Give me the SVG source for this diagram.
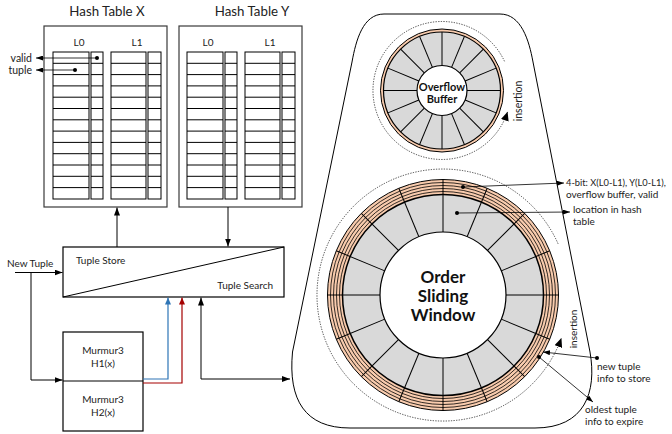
<svg xmlns="http://www.w3.org/2000/svg" xmlns:xlink="http://www.w3.org/1999/xlink" width="672" height="434" viewBox="0 0 672 434">
<style>
text{font-family:Lato,"Liberation Sans",sans-serif;fill:#222;font-size:10px}
.ttl{font-size:13.3px}
.s105{font-size:10.5px}
.s93{font-size:9.3px}
.b{font-weight:bold;fill:#111}
.b11{font-size:11px}
.b18{font-size:17px}
.box{fill:#fff;stroke:#3a3a3a;stroke-width:1.2}
.col{fill:#fff;stroke:#000;stroke-width:1}
.ln{fill:none;stroke:#000;stroke-width:1}
.thin{fill:none;stroke:#000;stroke-width:0.8}
.dash{fill:none;stroke:#000;stroke-width:0.7;stroke-dasharray:1.3 1.3}
.spoke{stroke:#000;stroke-width:1}
</style>
<defs>
<marker id="ah" viewBox="0 0 8 6" refX="8" refY="3" markerWidth="8" markerHeight="6" markerUnits="userSpaceOnUse" orient="auto-start-reverse"><path d="M0 0L8 3L0 6z" fill="#000"/></marker>
<marker id="ahs" viewBox="0 0 7 5" refX="7" refY="2.5" markerWidth="7" markerHeight="5" markerUnits="userSpaceOnUse" orient="auto-start-reverse"><path d="M0 0L7 2.5L0 5z" fill="#000"/></marker>
<marker id="ahb" viewBox="0 0 7 6" refX="7" refY="3" markerWidth="7" markerHeight="6" markerUnits="userSpaceOnUse" orient="auto"><path d="M0 0L7 3L0 6z" fill="#2e75b6"/></marker>
<marker id="ahr" viewBox="0 0 7 6" refX="7" refY="3" markerWidth="7" markerHeight="6" markerUnits="userSpaceOnUse" orient="auto"><path d="M0 0L7 3L0 6z" fill="#a50000"/></marker>
<marker id="ahi" viewBox="0 0 9 8" refX="9" refY="4" markerWidth="9" markerHeight="8" markerUnits="userSpaceOnUse" orient="auto"><path d="M0 0L9 4L0 8z" fill="#000"/></marker>
<g id="grid">
<rect class="col" x="9" y="52" width="36" height="147"/>
<rect class="col" x="47" y="52" width="12" height="147"/>
<rect class="col" x="67" y="52" width="35" height="147"/>
<rect class="col" x="104" y="52" width="13" height="147"/>
<path class="ln" d="M9 63.3h36M47 63.3h12M67 63.3h35M104 63.3h13M9 74.6h36M47 74.6h12M67 74.6h35M104 74.6h13M9 85.9h36M47 85.9h12M67 85.9h35M104 85.9h13M9 97.2h36M47 97.2h12M67 97.2h35M104 97.2h13M9 108.5h36M47 108.5h12M67 108.5h35M104 108.5h13M9 119.8h36M47 119.8h12M67 119.8h35M104 119.8h13M9 131.1h36M47 131.1h12M67 131.1h35M104 131.1h13M9 142.4h36M47 142.4h12M67 142.4h35M104 142.4h13M9 153.7h36M47 153.7h12M67 153.7h35M104 153.7h13M9 165h36M47 165h12M67 165h35M104 165h13M9 176.3h36M47 176.3h12M67 176.3h35M104 176.3h13M9 187.6h36M47 187.6h12M67 187.6h35M104 187.6h13"/>
</g>
<line id="spS" class="spoke" x1="0" y1="-25" x2="0" y2="-58.5"/>
<line id="spB" class="spoke" x1="0" y1="-63" x2="0" y2="-115.5"/>
</defs>

<g id="hash-table-x">
<text class="ttl" x="107" y="16" text-anchor="middle">Hash Table X</text>
<rect class="box" x="44" y="26" width="123" height="181"/>
<text x="79" y="46" text-anchor="middle">L0</text>
<text x="137" y="46" text-anchor="middle">L1</text>
<use xlink:href="#grid" href="#grid" transform="translate(44,0)"/>
</g>

<g id="hash-table-y">
<text class="ttl" x="252" y="16" text-anchor="middle">Hash Table Y</text>
<rect class="box" x="179" y="26" width="123" height="181"/>
<text x="208" y="46" text-anchor="middle">L0</text>
<text x="270" y="46" text-anchor="middle">L1</text>
<use xlink:href="#grid" href="#grid" transform="translate(178,0)"/>
</g>

<g id="valid-tuple-labels">
<text class="s105" x="32" y="62" text-anchor="end">valid</text>
<text class="s105" x="32" y="74" text-anchor="end">tuple</text>
<circle cx="97" cy="58" r="2"/>
<circle cx="75" cy="70" r="2"/>
<line class="thin" x1="97" y1="58" x2="36" y2="58" marker-end="url(#ahs)"/>
<line class="thin" x1="75" y1="70" x2="36" y2="70" marker-end="url(#ahs)"/>
</g>

<g id="tuple-store-search">
<rect x="63" y="247" width="221" height="50" fill="#fff" stroke="#000" stroke-width="1.2"/>
<line class="ln" x1="63" y1="297" x2="284" y2="247"/>
<text x="76" y="264">Tuple Store</text>
<text x="273" y="289" text-anchor="end">Tuple Search</text>
</g>

<g id="murmur3">
<rect x="63" y="332" width="80" height="99" fill="#fff" stroke="#000" stroke-width="1.2"/>
<line class="ln" x1="63" y1="381" x2="143" y2="381"/>
<text x="103" y="354" text-anchor="middle">Murmur3</text>
<text x="103" y="367" text-anchor="middle">H1(x)</text>
<text x="103" y="403" text-anchor="middle">Murmur3</text>
<text x="103" y="416" text-anchor="middle">H2(x)</text>
</g>

<g id="new-tuple-label">
<text x="7" y="267">New Tuple</text>
</g>

<g id="outer-frame">
<path d="M384 14L500 14C521 14 529 40 533 62L590 352C597 392 585 428 535 428L350 428C305 428 288 400 292.5 352L352 62C356 40 363 14 384 14Z" fill="#fff" stroke="#000" stroke-width="1"/>
</g>

<g id="overflow-buffer">
<circle cx="442" cy="90.5" r="61.5" fill="#f8cbad" stroke="#000" stroke-width="1"/>
<circle cx="442" cy="90.5" r="58.5" fill="#d9d9d9" stroke="#000" stroke-width="1.2"/>
<g transform="translate(442,90.5)">
<use href="#spS" xlink:href="#spS"/>
<use href="#spS" xlink:href="#spS" transform="rotate(22.5)"/>
<use href="#spS" xlink:href="#spS" transform="rotate(45)"/>
<use href="#spS" xlink:href="#spS" transform="rotate(67.5)"/>
<use href="#spS" xlink:href="#spS" transform="rotate(90)"/>
<use href="#spS" xlink:href="#spS" transform="rotate(112.5)"/>
<use href="#spS" xlink:href="#spS" transform="rotate(135)"/>
<use href="#spS" xlink:href="#spS" transform="rotate(157.5)"/>
<use href="#spS" xlink:href="#spS" transform="rotate(180)"/>
<use href="#spS" xlink:href="#spS" transform="rotate(202.5)"/>
<use href="#spS" xlink:href="#spS" transform="rotate(225)"/>
<use href="#spS" xlink:href="#spS" transform="rotate(247.5)"/>
<use href="#spS" xlink:href="#spS" transform="rotate(270)"/>
<use href="#spS" xlink:href="#spS" transform="rotate(292.5)"/>
<use href="#spS" xlink:href="#spS" transform="rotate(315)"/>
<use href="#spS" xlink:href="#spS" transform="rotate(337.5)"/>
</g>
<circle cx="442" cy="90.5" r="25" fill="#fff" stroke="#000" stroke-width="1.2"/>
<text class="b b11" x="442" y="91" text-anchor="middle">Overflow</text>
<text class="b b11" x="442" y="103" text-anchor="middle">Buffer</text>
<path class="dash" d="M504.5 61.3A69 69 0 1 0 507.6 111.8" marker-end="url(#ahi)"/>
<text class="s105" transform="translate(522,101) rotate(-90)" text-anchor="middle">insertion</text>
</g>

<g id="order-sliding-window">
<circle cx="443" cy="295" r="115.5" fill="#f8cbad" stroke="#000" stroke-width="1"/>
<circle class="thin" cx="443" cy="295" r="112.5"/>
<circle class="thin" cx="443" cy="295" r="109.5"/>
<circle class="thin" cx="443" cy="295" r="106.5"/>
<circle class="thin" cx="443" cy="295" r="103.5"/>
<circle cx="443" cy="295" r="100.5" fill="#d9d9d9" stroke="#000" stroke-width="1.5"/>
<g transform="translate(443,295)">
<use href="#spB" xlink:href="#spB"/>
<use href="#spB" xlink:href="#spB" transform="rotate(22.5)"/>
<use href="#spB" xlink:href="#spB" transform="rotate(45)"/>
<use href="#spB" xlink:href="#spB" transform="rotate(67.5)"/>
<use href="#spB" xlink:href="#spB" transform="rotate(90)"/>
<use href="#spB" xlink:href="#spB" transform="rotate(112.5)"/>
<use href="#spB" xlink:href="#spB" transform="rotate(135)"/>
<use href="#spB" xlink:href="#spB" transform="rotate(157.5)"/>
<use href="#spB" xlink:href="#spB" transform="rotate(180)"/>
<use href="#spB" xlink:href="#spB" transform="rotate(202.5)"/>
<use href="#spB" xlink:href="#spB" transform="rotate(225)"/>
<use href="#spB" xlink:href="#spB" transform="rotate(247.5)"/>
<use href="#spB" xlink:href="#spB" transform="rotate(270)"/>
<use href="#spB" xlink:href="#spB" transform="rotate(292.5)"/>
<use href="#spB" xlink:href="#spB" transform="rotate(315)"/>
<use href="#spB" xlink:href="#spB" transform="rotate(337.5)"/>
</g>
<circle cx="443" cy="295" r="63" fill="#fff" stroke="#000" stroke-width="1.2"/>
<text class="b b18" x="443" y="283" text-anchor="middle">Order</text>
<text class="b b18" x="443" y="302" text-anchor="middle">Sliding</text>
<text class="b b18" x="443" y="321" text-anchor="middle">Window</text>
<path class="dash" d="M558.1 243.8A126 126 0 1 0 561.4 338.1" marker-end="url(#ahi)"/>
<text transform="translate(577,329) rotate(-90)" text-anchor="middle">insertion</text>
</g>

<g id="window-labels">
<text class="s93" x="566" y="186">4-bit: X(L0-L1), Y(L0-L1),</text>
<text x="566" y="198">overflow buffer, valid</text>
<text x="573" y="213">location in hash</text>
<text x="573" y="225">table</text>
<text x="597" y="370">new tuple</text>
<text x="597" y="382">info to store</text>
<text x="585" y="413">oldest tuple</text>
<text x="585" y="425">info to expire</text>
<circle cx="463" cy="187" r="2"/>
<circle cx="457" cy="213" r="2"/>
<circle cx="597" cy="358" r="2"/>
<circle cx="539" cy="357" r="2"/>
<line class="thin" x1="463" y1="187" x2="564" y2="183" marker-end="url(#ahs)"/>
<line class="thin" x1="457" y1="213" x2="570" y2="212" marker-end="url(#ahs)"/>
<line class="thin" x1="597" y1="358" x2="543" y2="352" marker-end="url(#ahs)"/>
<line class="thin" x1="539" y1="357" x2="593" y2="402" marker-end="url(#ahs)"/>
</g>

<g id="connectors">
<line class="ln" x1="117" y1="247" x2="117" y2="207.5" marker-end="url(#ah)"/>
<line class="ln" x1="228" y1="207" x2="228" y2="246.5" marker-end="url(#ah)"/>
<line class="ln" x1="15" y1="272.5" x2="62.5" y2="272.5" stroke-width="1.3" marker-end="url(#ah)"/>
<polyline class="ln" points="31,272.5 31,380 62.5,380" stroke-width="1.3" marker-end="url(#ah)"/>
<polyline points="143,379 168,379 168,297.5" fill="none" stroke="#2e75b6" stroke-width="1.2" marker-end="url(#ahb)"/>
<polyline points="143,383 182,383 182,297.5" fill="none" stroke="#a50000" stroke-width="1.2" marker-end="url(#ahr)"/>
<polyline class="ln" points="201,297.5 201,379 290,379" stroke-width="1.3" marker-start="url(#ah)" marker-end="url(#ah)"/>
</g>
</svg>
